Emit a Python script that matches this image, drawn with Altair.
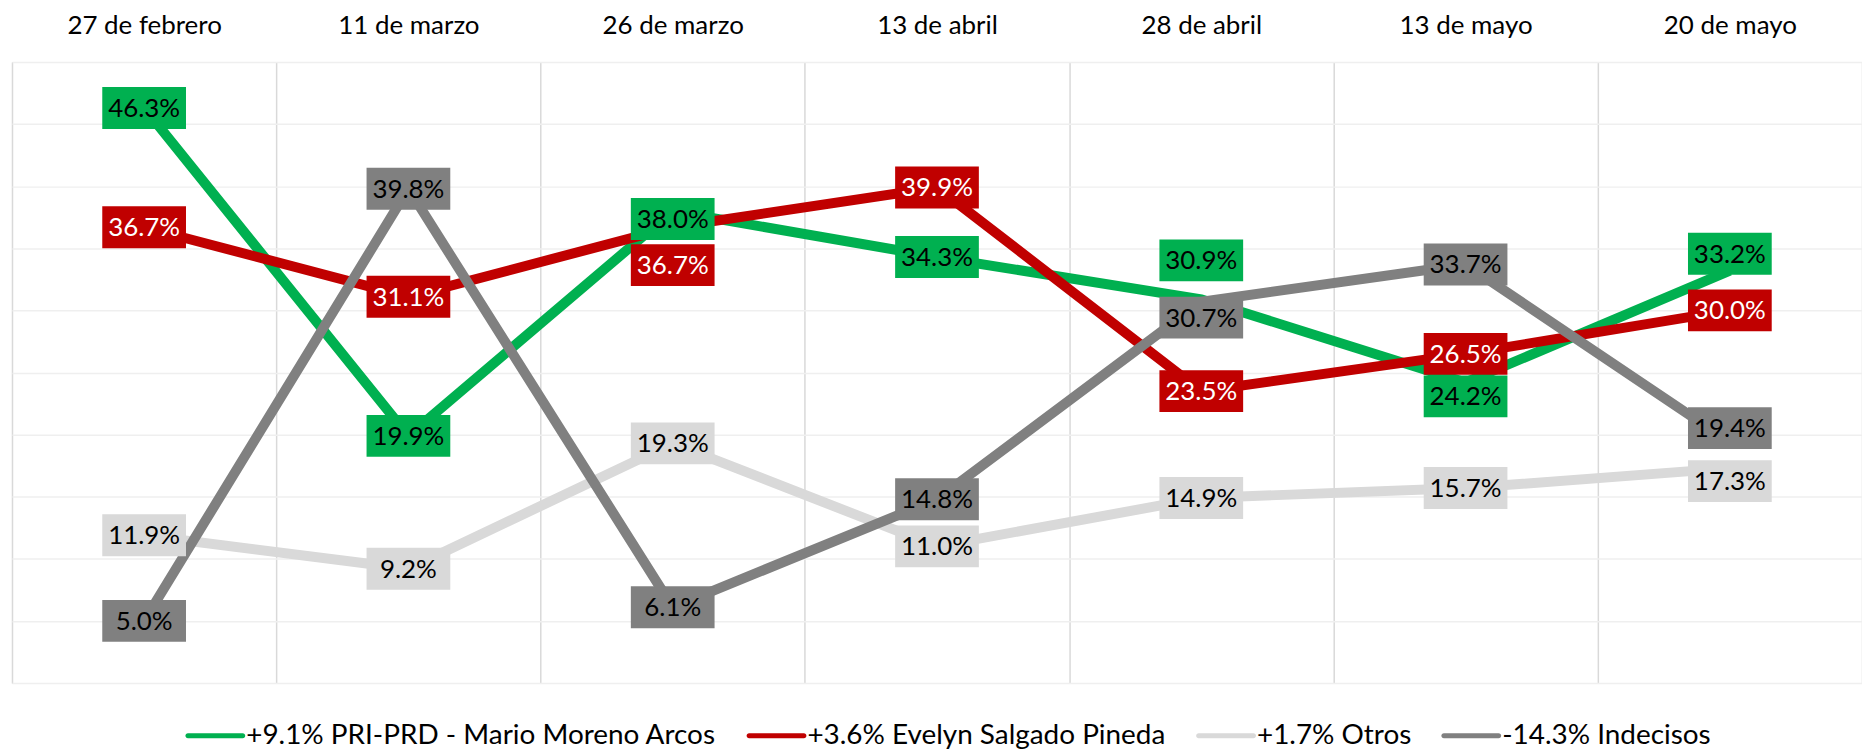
import altair as alt
import pandas as pd

# ---- data ----
fechas = ["27 de febrero", "11 de marzo", "26 de marzo", "13 de abril",
          "28 de abril", "13 de mayo", "20 de mayo"]
series = ["+9.1% PRI-PRD - Mario Moreno Arcos", "+3.6% Evelyn Salgado Pineda",
          "+1.7% Otros", "-14.3% Indecisos"]
pri = [46.3, 19.9, 38.0, 34.3, 30.9, 24.2, 33.2]
evelyn = [36.7, 31.1, 36.7, 39.9, 23.5, 26.5, 30.0]
otros = [11.9, 9.2, 19.3, 11.0, 14.9, 15.7, 17.3]
indecisos = [5.0, 39.8, 6.1, 14.8, 30.7, 33.7, 19.4]
valores = [pri, evelyn, otros, indecisos]

# ---- style / layout ----
colores = ["#00B050", "#C00000", "#D9D9D9", "#808080"]
W, H = 1856, 623
px_per_unit = H / 50.0
# label nudges in pixels (positive = downward), keyed by (series index, date index)
nudges = {(0, 2): 8, (0, 4): -39, (0, 5): 14, (0, 6): -17,
          (1, 2): 38, (2, 6): 13, (3, 4): 16, (3, 6): -14}

rows = []
for si, (s, vals) in enumerate(zip(series, valores)):
    for di, (f, v) in enumerate(zip(fechas, vals)):
        rows.append({
            "fecha": f, "serie": s, "valor": v,
            "ly": v - nudges.get((si, di), 0) / px_per_unit,
            "etiqueta": f"{v:.1f}%", "orden": si,
        })
df = pd.DataFrame(rows)

FONT = "Lato"
FS = 26
x_enc = alt.X("fecha:N", sort=fechas,
              scale=alt.Scale(paddingInner=0, paddingOuter=0),
              axis=alt.Axis(orient="top", title=None, labelAngle=0, ticks=False,
                            domain=False, grid=True, tickBand="extent",
                            gridColor="#D9D9D9", gridWidth=1.5,
                            labelFontSize=FS, labelFont=FONT, labelColor="#000000",
                            labelPadding=24))
y_scale = alt.Scale(domain=[0, 50], nice=False, zero=True)
color_scale = alt.Scale(domain=series, range=colores)

base = alt.Chart(df)

lines = []
for si, s in enumerate(series):
    lines.append(
        base.transform_filter(alt.datum.serie == s)
        .mark_line(strokeWidth=10, strokeCap="butt", strokeJoin="miter",
                   color=colores[si])
        .encode(
            x=x_enc,
            y=alt.Y("valor:Q", scale=y_scale,
                    axis=alt.Axis(title=None, labels=False, ticks=False, domain=False,
                                  values=list(range(0, 51, 5)), gridColor="#EFEFEF",
                                  gridWidth=1.5)),
        )
    )

box_path = "M-1,-0.5H1V0.5H-1Z"
legend_path = ("M-0.9167,-0.0833H0.9167A0.0833,0.0833 0 0 1 0.9167,0.0833"
               "H-0.9167A0.0833,0.0833 0 0 1 -0.9167,-0.0833Z")

boxes = base.mark_point(shape=box_path, filled=True, opacity=1, size=84 * 84,
                        strokeWidth=0).encode(
    x=x_enc,
    y=alt.Y("ly:Q", scale=y_scale),
    color=alt.Color("serie:N", scale=color_scale,
                    legend=alt.Legend(
                        title=None, orient="none", legendX=174, legendY=646,
                        direction="horizontal", columns=4, columnPadding=30,
                        symbolType=legend_path, symbolSize=3600,
                        symbolStrokeWidth=0, symbolOpacity=1,
                        labelFont=FONT, labelFontSize=28, labelColor="#000000",
                        labelLimit=1000, labelOffset=1)),
)

labels = base.mark_text(font=FONT, fontSize=FS, baseline="middle", align="center",
                        dy=1).encode(
    x=x_enc,
    y=alt.Y("ly:Q", scale=y_scale),
    text="etiqueta:N",
    color=alt.condition(alt.datum.serie == series[1], alt.value("#FFFFFF"),
                        alt.value("#000000")),
)

chart = alt.layer(*lines, boxes, labels).properties(
    width=W, height=H,
    padding={"left": 4, "top": 3, "right": 0, "bottom": 0},
).configure_view(
    stroke="#D9D9D9", strokeWidth=1.5
).configure(background="white")

chart.save("out.html", embed_options={"renderer": "svg", "actions": False})
